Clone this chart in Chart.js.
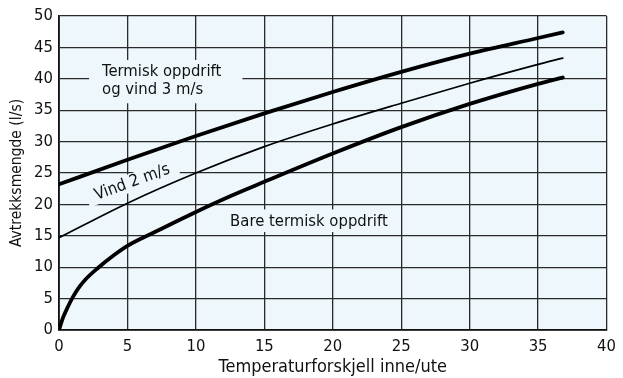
<!DOCTYPE html>
<html>
<head>
<meta charset="utf-8">
<script src="https://cdn.jsdelivr.net/npm/chart.js@4/dist/chart.umd.min.js"></script>
<style>
  html, body { margin: 0; padding: 0; background: #fff; }
</style>
</head>
<body>
<canvas id="chart" width="623" height="378"></canvas>
<script>
// Temperaturforskjell inne/ute (x) og avtrekksmengde (l/s)
const tempWind3 = [0, 5, 10, 15, 20, 25, 30, 35, 36.8];
const flowWind3 = [23.2, 27.1, 30.9, 34.5, 37.9, 41.1, 44.0, 46.5, 47.4];

const tempWind2 = [0, 5, 10, 15, 20, 25, 30, 35, 36.8];
const flowWind2 = [14.7, 20.2, 25.0, 29.2, 32.8, 36.1, 39.3, 42.3, 43.3];

const tempThermal = [0, 0.3, 0.65, 1, 1.5, 2, 2.8, 4, 5, 7, 10, 12.5, 15, 20, 25, 30, 35, 36.8];
const flowThermal = [0, 2, 3.7, 5.2, 6.9, 8.2, 9.8, 11.9, 13.4, 15.6, 18.8, 21.3, 23.6, 28.1, 32.3, 36.0, 39.2, 40.2];

const xTicks = [0, 5, 10, 15, 20, 25, 30, 35, 40];
const yTicks = [0, 5, 10, 15, 20, 25, 30, 35, 40, 45, 50];

const curveLabels = [
  ['Termisk oppdrift', 'og vind 3 m/s'],
  ['Vind 2 m/s'],
  ['Bare termisk oppdrift']
];

const FONT = '"DejaVu Sans Condensed", "Liberation Sans Narrow", sans-serif';
const PLOT_BG = '#eef8fc';

const toPoints = (xs, ys) => xs.map((v, i) => ({ x: v, y: ys[i] }));

// bakgrunn i plotteområdet
const plotBackground = {
  id: 'plotBackground',
  beforeDraw(chart) {
    const { ctx, chartArea: a } = chart;
    ctx.save();
    ctx.fillStyle = PLOT_BG;
    ctx.fillRect(a.left, a.top, a.right - a.left, a.bottom - a.top);
    ctx.restore();
  }
};

// tekst på kurvene, med maskering av rutenettet bak
const textLabels = {
  id: 'textLabels',
  beforeDatasetsDraw(chart) {
    const { ctx, scales: { x, y } } = chart;
    ctx.save();
    ctx.font = '16.5px ' + FONT;
    ctx.fillStyle = '#111';
    ctx.textBaseline = 'middle';

    // Termisk oppdrift og vind 3 m/s
    ctx.save();
    ctx.fillStyle = PLOT_BG;
    ctx.fillRect(x.getPixelForValue(2.2), y.getPixelForValue(43.0),
      x.getPixelForValue(13.4) - x.getPixelForValue(2.2),
      y.getPixelForValue(36.1) - y.getPixelForValue(43.0));
    ctx.restore();
    ctx.textAlign = 'left';
    ctx.fillText(curveLabels[0][0], x.getPixelForValue(3.15), y.getPixelForValue(41.2));
    ctx.fillText(curveLabels[0][1], x.getPixelForValue(3.15), y.getPixelForValue(38.3));

    // Bare termisk oppdrift
    ctx.save();
    ctx.fillStyle = PLOT_BG;
    ctx.fillRect(x.getPixelForValue(12.2), y.getPixelForValue(19.2),
      x.getPixelForValue(24.8) - x.getPixelForValue(12.2),
      y.getPixelForValue(15.6) - y.getPixelForValue(19.2));
    ctx.restore();
    ctx.fillText(curveLabels[2][0], x.getPixelForValue(12.5), y.getPixelForValue(17.2));

    // Vind 2 m/s (rotert)
    ctx.translate(x.getPixelForValue(5.35), y.getPixelForValue(23.5));
    ctx.rotate(-20 * Math.PI / 180);
    ctx.fillStyle = PLOT_BG;
    ctx.fillRect(-48, -9, 96, 18);
    ctx.fillStyle = '#111';
    ctx.textAlign = 'center';
    ctx.fillText(curveLabels[1][0], 0, 0);
    ctx.restore();
  }
};

const lineStyle = (width) => ({
  borderColor: '#000',
  borderWidth: width,
  pointRadius: 0,
  fill: false,
  cubicInterpolationMode: 'monotone',
  borderCapStyle: 'round',
  borderJoinStyle: 'round'
});

new Chart(document.getElementById('chart').getContext('2d'), {
  type: 'line',
  data: {
    datasets: [
      { label: curveLabels[0].join(' '), data: toPoints(tempWind3, flowWind3), ...lineStyle(3.8) },
      { label: curveLabels[1][0], data: toPoints(tempWind2, flowWind2), ...lineStyle(1.7) },
      { label: curveLabels[2][0], data: toPoints(tempThermal, flowThermal), ...lineStyle(3.8) }
    ]
  },
  options: {
    responsive: false,
    animation: false,
    layout: { padding: { top: 16, right: 10, bottom: 0, left: 0 } },
    plugins: {
      legend: { display: false },
      tooltip: { enabled: false }
    },
    scales: {
      x: {
        type: 'linear',
        min: 0,
        max: 40,
        afterBuildTicks: (s) => { s.ticks = xTicks.map(v => ({ value: v })); },
        afterFit: (s) => { s.height = 48; },
        grid: { color: '#2a2a2a', lineWidth: 1.3, drawTicks: false },
        border: { color: '#111', width: 1.8 },
        ticks: {
          color: '#111',
          padding: 7,
          maxRotation: 0,
          font: { family: FONT, size: 16.5 }
        },
        title: {
          display: true,
          text: 'Temperaturforskjell inne/ute',
          color: '#111',
          padding: { top: 0, bottom: 0 },
          font: { family: FONT, size: 18 }
        }
      },
      y: {
        type: 'linear',
        min: 0,
        max: 50,
        afterBuildTicks: (s) => { s.ticks = yTicks.map(v => ({ value: v })); },
        afterFit: (s) => { s.width = 59; },
        grid: { color: '#2a2a2a', lineWidth: 1.3, drawTicks: false },
        border: { color: '#111', width: 1.8 },
        ticks: {
          color: '#111',
          padding: 6,
          font: { family: FONT, size: 16.5 }
        },
        title: {
          display: true,
          text: 'Avtrekksmengde (l/s)',
          color: '#111',
          padding: { top: 8, bottom: 0 },
          font: { family: FONT, size: 15.5 }
        }
      }
    }
  },
  plugins: [plotBackground, textLabels]
});
</script>
</body>
</html>
